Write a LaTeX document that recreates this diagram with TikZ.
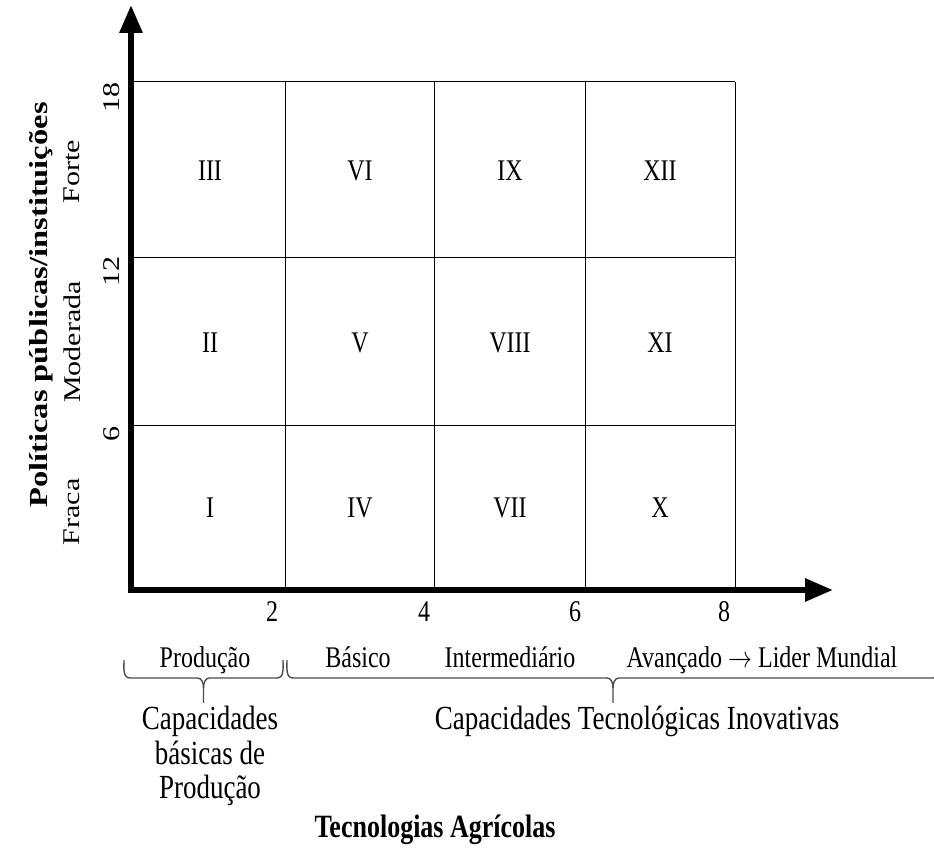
\documentclass[tikz,border=0pt]{standalone}
\usepackage{fontspec}
\setmainfont{Liberation Serif}
\usetikzlibrary{arrows.meta}

% chave horizontal com a ponta para baixo
\newcommand{\chave}[2]{%
  \pgfmathsetmacro{\meio}{(#1+#2)/2}
  \draw[chave] (#1,660) to[out=-90,in=180] (#1+6,678) -- (\meio-6,678)
    to[out=0,in=90] (\meio,688) -- (\meio,703);
  \draw[chave] (#2,660) to[out=-90,in=0] (#2-6,678) -- (\meio+6,678)
    to[out=180,in=90] (\meio,688);
}

\begin{document}
\begin{tikzpicture}[x=0.5pt,y=-0.5pt,
    eixo/.style={line width=3pt,-{Triangle[length=14pt,width=11pt]}},
    grade/.style={black,line width=0.5pt},
    chave/.style={black!70,line width=0.7pt},
    texto/.style={font=\fontsize{12}{14}\selectfont,yscale=1.25},
    textov/.style={font=\fontsize{12}{14}\selectfont,rotate=90,xscale=1.25},
    textog/.style={font=\fontsize{13.5}{13.8}\selectfont,align=center,yscale=1.25},
    titulo/.style={font=\bfseries\fontsize{13}{15}\selectfont}]
    \useasboundingbox (0,0) rectangle (934,849);

    % Grade
    \foreach \x in {285,434,585,735}
        \draw[grade] (\x,82) -- (\x,590);
    \foreach \y in {82,258,426}
        \draw[grade] (131,\y) -- (735,\y);

    % Eixos
    \draw[eixo] (131,592) -- (131,5);
    \draw[eixo] (128,590) -- (833,590);

    % Quadrantes
    \foreach \num/\cx/\cy in {I/210/508, II/210/343, III/210/171,
                              IV/360/508, V/360/343, VI/360/171,
                              VII/510/508, VIII/510/343, IX/510/171,
                              X/660/508, XI/660/343, XII/660/171}
        \node[texto] (c\num) at (\cx,\cy) {\num};

    % Eixo vertical
    \node[titulo,rotate=90,xscale=1.25] (eixoy) at (41,305) {Políticas públicas/instituições};
    \foreach \val/\cy in {18/98, 12/272, 6/434}
        \node[textov] (y\val) at (112,\cy) {\val};
    \node[textov] (forte) at (72,172) {Forte};
    \node[textov] (moderada) at (72,342) {Moderada};
    \node[textov] (fraca) at (72,512) {Fraca};

    % Eixo horizontal
    \foreach \val/\cx in {2/272, 4/424, 6/575, 8/724}
        \node[texto] (x\val) at (\cx,612) {\val};
    \node[texto,anchor=base] (producao) at (205,668) {Produção};
    \node[texto,anchor=base] (basico) at (358,668) {Básico};
    \node[texto,anchor=base] (intermediario) at (510,668) {Intermediário};
    \node[texto,anchor=base] (avancado) at (762,668) {Avançado $\rightarrow$ Lider Mundial};

    % Chaves
    \chave{124}{283}
    \chave{287}{939}

    \node[textog] (basicas) at (210,756) {Capacidades\\básicas de\\Produção};
    \node[textog,anchor=base] (inovativas) at (637,730) {Capacidades Tecnológicas Inovativas};
    \node[titulo,yscale=1.25] (eixox) at (435,830) {Tecnologias Agrícolas};
\end{tikzpicture}
\end{document}
